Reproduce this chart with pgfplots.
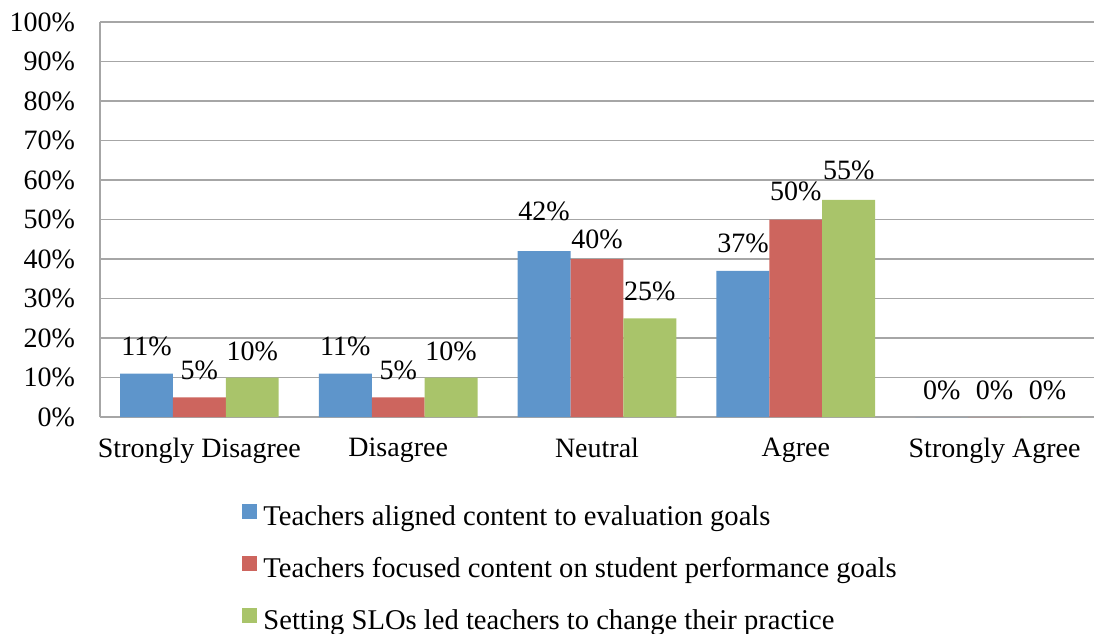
\documentclass[border=0pt]{standalone}
\usepackage{pgfplots}
\pgfplotsset{compat=1.18}
\usepackage{fontspec}
\setmainfont{Liberation Serif}
\definecolor{cblue}{RGB}{94,149,203}
\definecolor{cred}{RGB}{205,101,94}
\definecolor{cgreen}{RGB}{169,196,106}
\definecolor{cgrid}{RGB}{166,166,166}
\pgfplotstableread{
x y off
0 11 9.25
1 11 9.25
2 42 15.5
3 37 9.25
4 0 8.75
}\blue
\pgfplotstableread{
x y off
0 5 8.75
1 5 8.75
2 40 5.5
3 50 9.5
4 0 8.75
}\red
\pgfplotstableread{
x y off
0 10 8.75
1 10 8.75
2 25 9
3 55 10
4 0 8.75
}\green
\begin{document}
\begin{tikzpicture}[font=\fontsize{14}{16.5}\selectfont]
\useasboundingbox (-50pt,-108pt) rectangle (497pt,208.5pt);
\begin{axis}[
  scale only axis,
  width=497pt, height=197.5pt,
  ybar=0pt,
  bar width=0.266,
  xmin=-0.5, xmax=4.5,
  ymin=0, ymax=100,
  xtick={0,1,2,3,4},
  xticklabels={Strongly Disagree, Disagree, Neutral, Agree, Strongly Agree},
  ytick={0,10,...,100},
  yticklabel={\pgfmathprintnumber{\tick}\%},
  /pgf/number format/assume math mode=true,
  major tick length=0pt,
  axis x line*=bottom, axis y line*=left,
  axis line style={cgrid, line width=0.9pt, -},
  ymajorgrids, grid style={cgrid, line width=0.9pt},
  yticklabel style={xshift=-9pt},
  xticklabel style={yshift=-7pt},
  visualization depends on={\thisrow{off} \as \off},
  nodes near coords={\pgfmathprintnumber{\pgfplotspointmeta}\%},
  nodes near coords style={anchor=base, yshift=\off pt, font=\fontsize{14}{16.5}\selectfont},
  legend cell align=left,
  legend style={at={(0.1429,-0.220)}, anchor=north west, draw=none, fill=none,
    inner sep=0pt, row sep=12.25pt, column sep=3pt,
    nodes={text height=9.5pt, text depth=3pt, inner sep=0pt},
    font=\fontsize{14.3}{16.5}\selectfont},
  legend image code/.code={\fill[#1,draw=none] (0pt,0pt) rectangle (7.5pt,7.5pt);},
]
\addplot[fill=cblue, draw=none] table[x=x,y=y] {\blue};
\addplot[fill=cred, draw=none] table[x=x,y=y] {\red};
\addplot[fill=cgreen, draw=none] table[x=x,y=y] {\green};
\legend{Teachers aligned content to evaluation goals,
Teachers focused content on student performance goals,
Setting SLOs led teachers to change their practice}
\end{axis}
\end{tikzpicture}
\end{document}
